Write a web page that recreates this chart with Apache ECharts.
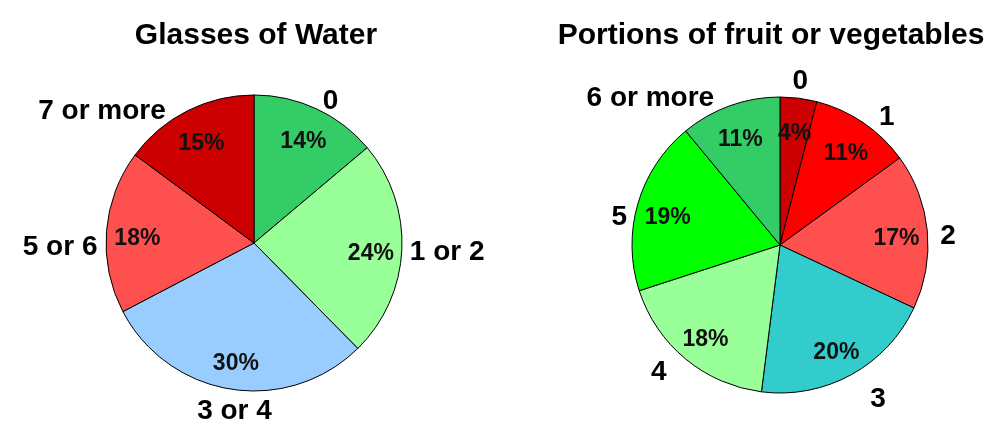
<!DOCTYPE html>
<html>
<head>
<meta charset="utf-8">
<title>Water and fruit</title>
<script src="https://cdn.jsdelivr.net/npm/echarts@6/dist/echarts.min.js"></script>
<style>
  html, body { margin: 0; padding: 0; background: #fff; }
  #main { width: 986px; height: 430px; }
</style>
</head>
<body>
<div id="main"></div>
<script>
// glasses of water per day
const waterCats = ["0", "1 or 2", "3 or 4", "5 or 6", "7 or more"];
const waterPct = [14, 24, 30, 18, 15];
// portions of fruit or vegetables per day
const fruitCats = ["0", "1", "2", "3", "4", "5", "6 or more"];
const fruitPct = [4, 11, 17, 20, 18, 19, 11];

const waterColors = ["#33CC66", "#99FF99", "#99CCFF", "#FF5050", "#CC0000"];
const fruitColors = ["#CC0000", "#FF0000", "#FF5050", "#33CCCC", "#99FF99", "#00FF00", "#33CC66"];

// small nudges so the outside names sit where excel put them
const waterNameShift = [[0, 0], [-3, 2], [45, 14], [2, 16], [-15, 8]];
const fruitNameShift = [[-10, -9], [5, -3], [5, 6], [12, 18], [-11, 7], [0, 16], [-10, 0]];

const font = "'Liberation Sans', Arial, sans-serif";
const R = 148;

// outer pie: coloured slices + category names outside
function namePie(cats, vals, colors, center, shift) {
  return {
    type: "pie",
    center: center,
    radius: [0, R],
    startAngle: 90,
    silent: true,
    itemStyle: { borderColor: "#000", borderWidth: 1 },
    label: {
      position: "outside",
      color: "#000",
      fontFamily: font,
      fontWeight: "bold",
      fontSize: 28,
      distanceToLabelLine: 3
    },
    labelLine: { show: false, length: 8, length2: 0 },
    labelLayout: p => ({ dx: shift[p.dataIndex][0], dy: shift[p.dataIndex][1] }),
    data: cats.map((c, i) => ({ name: c, value: vals[i], itemStyle: { color: colors[i] } }))
  };
}

// transparent ring carrying the percentages a bit further out than r/2
function pctPie(cats, vals, center) {
  return {
    type: "pie",
    center: center,
    radius: [80, R],
    startAngle: 90,
    silent: true,
    itemStyle: { color: "rgba(0,0,0,0)", borderWidth: 0 },
    label: {
      position: "inside",
      color: "#111",
      fontFamily: font,
      fontWeight: "bold",
      fontSize: 23,
      formatter: p => p.value + "%"
    },
    labelLine: { show: false },
    labelLayout: { dy: 5 },
    data: cats.map((c, i) => ({ name: c, value: vals[i] }))
  };
}

let myChart = echarts.init(document.getElementById("main"));
let option = {
  backgroundColor: "#fff",
  animation: false,
  title: [
    {
      text: "Glasses of Water",
      left: 251, top: 16, textAlign: "center",
      textStyle: { fontFamily: font, fontWeight: "bold", fontSize: 30, color: "#000" }
    },
    {
      text: "Portions of fruit or vegetables",
      left: 766, top: 16, textAlign: "center",
      textStyle: { fontFamily: font, fontWeight: "bold", fontSize: 30, color: "#000" }
    }
  ],
  series: [
    namePie(waterCats, waterPct, waterColors, [254, 243], waterNameShift),
    pctPie(waterCats, waterPct, [254, 243]),
    namePie(fruitCats, fruitPct, fruitColors, [780, 245], fruitNameShift),
    pctPie(fruitCats, fruitPct, [780, 245])
  ]
};
myChart.setOption(option);
</script>
</body>
</html>
